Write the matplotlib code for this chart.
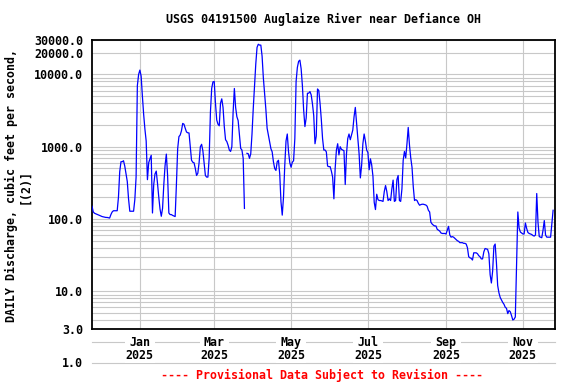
import numpy as np
import pandas as pd
import matplotlib
matplotlib.use("Agg")
import matplotlib.pyplot as plt
import matplotlib.dates as mdates
from matplotlib.ticker import NullFormatter

plt.rcParams['font.family'] = ['DejaVu Sans Mono']
plt.rcParams['font.weight'] = 'bold'

# Daily discharge (cfs), one list per month
start_date = "2024-11-24"
nov_2024 = [150, 125, 120, 118, 116, 114, 112]
dec_2024 = [110, 108, 107, 106, 105, 105, 104, 103, 115, 125, 130, 130, 130, 130,
            200, 450, 620, 620, 640, 540, 420, 330, 190, 128, 128, 128, 128, 186,
            380, 7000, 10000]
jan_2025 = [11500, 9500, 5000, 2800, 1750, 1200, 350, 600, 680, 760, 121, 300, 420,
            460, 310, 200, 137, 109, 140, 300, 550, 790, 400, 121, 115, 115, 112,
            110, 108, 300, 940]
feb_2025 = [1380, 1450, 1660, 2100, 2050, 1800, 1600, 1560, 1550, 1000, 650, 610,
            600, 500, 400, 430, 600, 1000, 1080, 880, 600, 400, 380, 380, 700, 3000,
            6400, 7900]
mar_2025 = [8000, 4000, 2340, 2050, 1950, 4000, 4600, 3500, 1900, 1250, 1180, 1050,
            900, 860, 1000, 3000, 6400, 3500, 2600, 2300, 1500, 950, 900, 690, 140,
            np.nan, 810, 800, 690, 800, 1500]
apr_2025 = [3400, 7000, 14000, 23700, 26200, 25500, 25500, 18000, 9000, 5500, 3300,
            1800, 1450, 1170, 940, 850, 620, 500, 470, 620, 650, 420, 173, 113, 200,
            550, 1200, 1500, 850, 600]
may_2025 = [520, 610, 640, 1300, 8000, 12500, 15200, 15800, 12000, 7000, 3200, 1900,
            2500, 5500, 5500, 5800, 5200, 3900, 2700, 1100, 1400, 6300, 6000, 4000,
            2400, 1300, 900, 900, 850, 540, 530]
jun_2025 = [530, 460, 380, 190, 500, 900, 1100, 770, 1000, 920, 900, 880, 300, 800,
            1300, 1500, 1250, 1450, 1700, 2600, 3500, 2100, 1300, 800, 370, 550, 1100,
            1500, 1200, 900]
jul_2025 = [830, 480, 680, 560, 390, 170, 135, 220, 185, 180, 180, 178, 175, 240, 290,
            240, 180, 190, 180, 260, 345, 175, 180, 350, 400, 180, 175, 260, 650, 860,
            700]
aug_2025 = [1100, 1850, 1050, 700, 520, 280, 180, 185, 180, 165, 155, 158, 160, 160,
            158, 156, 150, 132, 125, 90, 85, 82, 80, 80, 72, 70, 68, 64, 63, 63, 63]
sep_2025 = [62, 70, 79, 60, 56, 57, 56, 54, 52, 50, 49, 47, 47, 47, 46, 46, 45, 40, 30,
            29, 28.5, 27, 34, 34, 34, 33, 31, 30, 28, 28]
oct_2025 = [35, 39, 38.5, 38, 33, 17, 13, 19, 42, 45, 25, 12, 9.5, 8.2, 7.6, 7.0, 6.6,
            6.0, 5.8, 4.9, 5.4, 5.2, 4.6, 4.0, 4.1, 4.4, 24, 125, 75, 66, 64]
nov_2025 = [62, 62, 88, 74, 65, 63, 62, 61, 59, 58, 60, 225, 90, 57, 56, 55, 70, 95,
            60, 56, 56, 56, 56, 85, 132]

y_major = [3, 10, 100, 1000, 10000, 20000, 30000]
month_ticks = ["2025-01-01", "2025-03-01", "2025-05-01", "2025-07-01", "2025-09-01", "2025-11-01"]
month_labels = ["Jan\n2025", "Mar\n2025", "May\n2025", "Jul\n2025", "Sep\n2025", "Nov\n2025"]

title = "USGS 04191500 Auglaize River near Defiance OH"
ylabel = "DAILY Discharge, cubic feet per second,\n[(2)]"
footer = "---- Provisional Data Subject to Revision ----"


def main():
    values = (nov_2024 + dec_2024 + jan_2025 + feb_2025 + mar_2025 + apr_2025 +
              may_2025 + jun_2025 + jul_2025 + aug_2025 + sep_2025 + oct_2025 + nov_2025)
    dates = pd.date_range(start_date, periods=len(values), freq="D")

    fig = plt.figure(figsize=(5.76, 3.84), dpi=100)
    ax = fig.add_axes([92 / 576, 55 / 384, 463 / 576, 289 / 384])

    ax.plot(dates, values, color="#0000ff", linewidth=0.9, zorder=3)

    ax.set_yscale("log")
    ax.set_ylim(3, 30000)
    ax.set_xlim(pd.Timestamp("2024-11-24"), pd.Timestamp("2025-11-26 12:00"))

    # every 1..9 x 10^k line between 3 and 30000 is drawn as a grid line
    grid_vals = [m * 10 ** k for k in range(0, 5) for m in range(1, 10)
                 if 3 <= m * 10 ** k <= 30000]
    ax.set_yticks(grid_vals, minor=True)
    ax.set_yticks(y_major)
    ax.set_yticklabels(["%.1f" % v for v in y_major])
    ax.yaxis.set_minor_formatter(NullFormatter())

    ax.set_xticks([pd.Timestamp(d) for d in month_ticks])
    ax.set_xticklabels(month_labels, linespacing=1.0)
    ax.xaxis.set_minor_locator(mdates.YearLocator(100))

    ax.grid(True, which="both", color="#c8c8c8", linewidth=0.8)
    ax.set_axisbelow(True)
    ax.tick_params(axis="both", which="both", length=0, labelsize=8.4)
    ax.tick_params(axis="x", pad=5)
    ax.tick_params(axis="y", pad=6.5)
    for lbl in ax.get_xticklabels():
        lbl.set_bbox(dict(facecolor="white", edgecolor="none", pad=0.5))

    for sp in ax.spines.values():
        sp.set_linewidth(1.3)
        sp.set_color("black")

    # lines at 2 and 1 that run below the frame, as on the USGS page
    for v in (2, 1):
        ax.axhline(v, color="#c8c8c8", linewidth=0.8, clip_on=False, zorder=0.2)
    ax.text(-0.02, 1, "1.0", transform=ax.get_yaxis_transform(), ha="right",
            va="center", fontsize=8.4, clip_on=False)

    fig.text(0.5 * (92 + 555) / 576, 1 - 19 / 384, title, ha="center", va="center",
             fontsize=8.4)
    fig.text(18 / 576, 1 - 186 / 384, ylabel, rotation=90, ha="center", va="center",
             fontsize=8.4, multialignment="center", linespacing=1.0)
    fig.text(322 / 576, 1 - 375 / 384, footer, ha="center", va="center",
             fontsize=8.4, color="red")

    fig.savefig("out.png", dpi=100)


if __name__ == "__main__":
    main()
